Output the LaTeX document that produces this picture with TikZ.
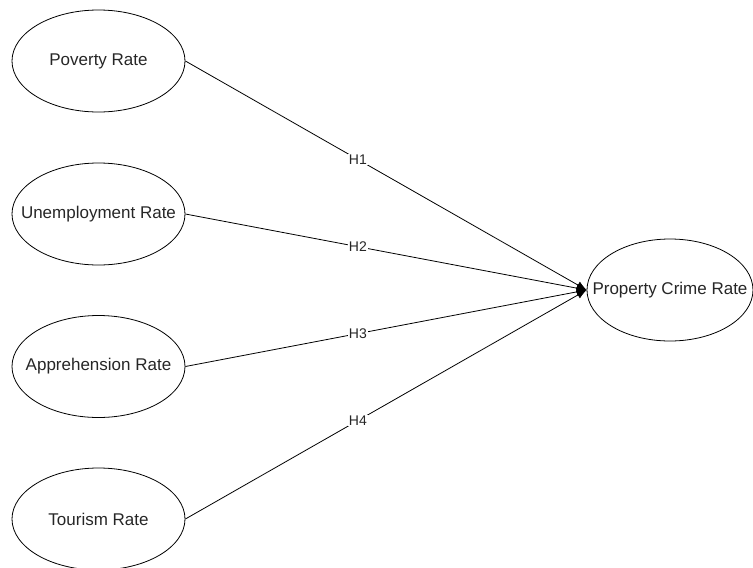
\documentclass[tikz,border=0pt]{standalone}
\usepackage{fontspec}
\setmainfont{Liberation Sans}
\usetikzlibrary{shapes.geometric,arrows.meta}
\newcommand{\zw}[1]{\makebox[0pt][c]{#1}}
\begin{document}
\begin{tikzpicture}[x=1pt,y=-1pt,
  var/.style={draw, ellipse, line width=0.8pt, minimum width=173pt, minimum height=102pt, inner sep=0pt, font=\fontsize{17}{20}\selectfont, text=black!85},
  link/.style={draw, line width=0.8pt, -{Latex[length=10pt,width=8pt]}},
  hlab/.style={fill=white, inner sep=1pt, font=\fontsize{14}{16}\selectfont, text=black!85}]
\useasboundingbox (0,0) rectangle (753,568);
\node[var] (pov) at (98.5,61) {\zw{Poverty Rate}};
\node[var] (une) at (98.5,214) {\zw{Unemployment Rate}};
\node[var] (app) at (98.5,366.5) {\zw{Apprehension Rate}};
\node[var] (tou) at (98.5,519) {\zw{Tourism Rate}};
\node[var, minimum width=166pt] (pcr) at (670,290) {\zw{Property Crime Rate}};
\draw[link] (pov.east) -- node[hlab, pos=0.43] (h1) {H1} (pcr.west);
\draw[link] (une.east) -- node[hlab, pos=0.43] (h2) {H2} (pcr.west);
\draw[link] (app.east) -- node[hlab, pos=0.43] (h3) {H3} (pcr.west);
\draw[link] (tou.east) -- node[hlab, pos=0.43] (h4) {H4} (pcr.west);
\end{tikzpicture}
\end{document}
